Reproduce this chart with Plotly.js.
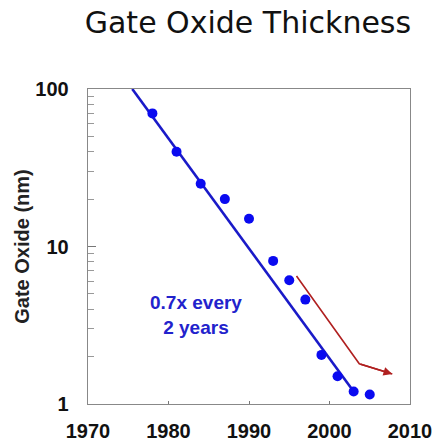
<!DOCTYPE html>
<html>
<head>
<meta charset="utf-8">
<script src="https://cdn.plot.ly/plotly-3.0.1.min.js"></script>
<style>html,body{margin:0;padding:0;background:#fff;}#chart{width:435px;height:445px;}</style>
</head>
<body>
<div id="chart"></div>
<script>
// Measured gate oxide thickness (nm) by year
const years = [1978, 1981, 1984, 1987, 1990, 1993, 1995, 1997, 1999, 2001, 2003, 2005];
const thickness = [70, 40, 25, 20, 15, 8.1, 6.1, 4.6, 2.05, 1.5, 1.2, 1.15];

// Trend line: 0.7x every 2 years
const trendYears = [1975.5, 2003];
const trendValues = [100, 1.2];

// Red path (actual slowdown)
const redYears = [1995.9, 2003.7, 2007.8];
const redValues = [6.5, 1.8, 1.55];

const xTicks = [1970, 1980, 1990, 2000, 2010];
const yTicks = [1, 10, 100];

const font = 'Arial';

const data = [
  {x: trendYears, y: trendValues, mode: 'lines', line: {color: '#1a1ac8', width: 2.6}, hoverinfo: 'skip', showlegend: false},
  {x: years, y: thickness, mode: 'markers', marker: {color: '#0a0af0', size: 10}, showlegend: false},
  {x: redYears, y: redValues, mode: 'lines', line: {color: '#b02020', width: 1.6}, showlegend: false}
];

const last = redYears.length - 1;
const layout = {
  width: 435, height: 445,
  margin: {l: 88, r: 25, t: 89, b: 41},
  paper_bgcolor: '#fff', plot_bgcolor: '#fff',
  title: {text: 'Gate Oxide Thickness', x: 0.57, xanchor: 'center', y: 0.95, yanchor: 'middle',
          font: {family: 'DejaVu Sans', size: 30, color: '#111'}},
  xaxis: {range: [1970, 2010], tickvals: xTicks, ticktext: xTicks.map(String),
          ticks: 'inside', ticklen: 3, tickcolor: '#777', showgrid: false, zeroline: false,
          showline: true, linecolor: '#888', linewidth: 1.3, mirror: true,
          ticklabelstandoff: 9, tickfont: {family: font, size: 20, color: '#111', weight: 'bold'}},
  yaxis: {type: 'log', range: [0, 2], tickvals: yTicks, ticktext: yTicks.map(String),
          ticks: 'inside', ticklen: 8, tickcolor: '#777', showgrid: false, zeroline: false,
          showline: true, linecolor: '#888', linewidth: 1.3, mirror: true,
          minor: {ticks: 'inside', ticklen: 6, tickcolor: '#999', tickvals: [2,3,4,5,6,7,8,9,20,30,40,50,60,70,80,90], showgrid: false},
          ticklabelstandoff: 14, tickfont: {family: font, size: 20, color: '#111', weight: 'bold'},
          title: {text: 'Gate Oxide (nm)', standoff: 0, font: {family: font, size: 20, color: '#222', weight: 'bold'}}},
  annotations: [
    {x: 1983.4, y: Math.log10(3.7), xref: 'x', yref: 'y', text: '0.7x every<br>2 years', showarrow: false,
     font: {family: font, size: 19, color: '#2222cc', weight: 'bold'}, align: 'center'},
    {x: redYears[last], y: Math.log10(redValues[last]), xref: 'x', yref: 'y', text: '',
     showarrow: true, arrowhead: 2, arrowsize: 1.1, arrowwidth: 1.6, arrowcolor: '#b02020',
     axref: 'x', ayref: 'y', ax: redYears[last - 1], ay: Math.log10(redValues[last - 1]), standoff: 0}
  ]
};

Plotly.newPlot('chart', data, layout, {displayModeBar: false, staticPlot: true});
</script>
</body>
</html>
